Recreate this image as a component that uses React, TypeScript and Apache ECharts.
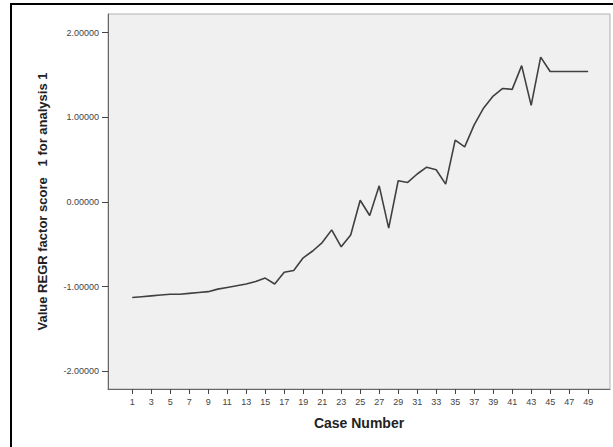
import React, { useEffect, useRef } from "react";
import * as echarts from "echarts";

// Case numbers and their REGR factor scores
const caseNumbers: number[] = Array.from({ length: 49 }, (_, i) => i + 1);
const factorScores: number[] = [
  -1.13, -1.12, -1.11, -1.1, -1.09, -1.09, -1.08, -1.07, -1.06, -1.03,
  -1.01, -0.99, -0.97, -0.94, -0.9, -0.97, -0.83, -0.81, -0.66, -0.58,
  -0.48, -0.33, -0.53, -0.39, 0.02, -0.16, 0.19, -0.31, 0.25, 0.23,
  0.33, 0.41, 0.38, 0.21, 0.73, 0.65, 0.91, 1.11, 1.25, 1.34,
  1.33, 1.61, 1.14, 1.71, 1.54, 1.54, 1.54, 1.54, 1.54,
];

// Tick positions and their labels
const xTickValues: number[] = caseNumbers.filter((n) => n % 2 === 1);
const yTickValues: number[] = [-2, -1, 0, 1, 2];
const yTickLabels: string[] = ["-2.00000", "-1.00000", "0.00000", "1.00000", "2.00000"];

const FONT = "'Liberation Sans', Arial, sans-serif";

export default function App() {
  const ref = useRef<HTMLDivElement>(null);

  useEffect(() => {
    if (!ref.current) return;
    const chart = echarts.init(ref.current, null, { renderer: "svg" });
    chart.setOption({
      animation: false,
      backgroundColor: "#ffffff",
      textStyle: { fontFamily: FONT },
      graphic: [
        {
          type: "line",
          shape: { x1: 10, y1: 4, x2: 613, y2: 4 },
          style: { stroke: "#000000", lineWidth: 2 },
          z: 100,
        },
        {
          type: "line",
          shape: { x1: 11, y1: 3, x2: 11, y2: 447 },
          style: { stroke: "#000000", lineWidth: 2 },
          z: 100,
        },
      ],
      grid: {
        left: 108,
        right: 3,
        top: 14,
        bottom: 58,
        show: true,
        backgroundColor: "#f0f0f0",
        borderColor: "#b0b0b0",
        borderWidth: 1,
      },
      xAxis: {
        type: "value",
        min: -1.55,
        max: 51.3,
        name: "Case Number",
        nameLocation: "middle",
        nameGap: 27,
        nameTextStyle: { fontFamily: FONT, fontWeight: "bold", fontSize: 14, color: "#222" },
        axisLine: { show: true, onZero: false, lineStyle: { color: "#666", width: 1 } },
        axisTick: {
          show: true,
          length: 5,
          customValues: xTickValues,
          lineStyle: { color: "#444" },
        },
        axisLabel: {
          customValues: xTickValues,
          fontSize: 9,
          color: "#444",
          margin: 8,
          fontFamily: FONT,
        },
        splitLine: { show: false },
      },
      yAxis: {
        type: "value",
        min: -2.21,
        max: 2.22,
        name: "Value REGR factor score   1 for analysis 1",
        nameLocation: "middle",
        nameRotate: 90,
        nameGap: 59,
        nameTextStyle: { fontFamily: FONT, fontWeight: "bold", fontSize: 13, color: "#222" },
        axisLine: { show: true, onZero: false, lineStyle: { color: "#666", width: 1 } },
        axisTick: {
          show: true,
          length: 6,
          customValues: yTickValues,
          lineStyle: { color: "#444" },
        },
        axisLabel: {
          customValues: yTickValues,
          fontSize: 9,
          color: "#444",
          margin: 9,
          fontFamily: FONT,
          formatter: (v: number) => {
            const i = yTickValues.indexOf(v);
            return i >= 0 ? yTickLabels[i] : "";
          },
        },
        splitLine: { show: false },
      },
      series: [
        {
          type: "line",
          data: caseNumbers.map((c, i) => [c, factorScores[i]]),
          symbol: "none",
          lineStyle: { color: "#404040", width: 1.6 },
        },
      ],
    });
    return () => chart.dispose();
  }, []);

  return (
    <div
      ref={ref}
      style={{ position: "fixed", left: 0, top: 0, width: 613, height: 447 }}
    />
  );
}
